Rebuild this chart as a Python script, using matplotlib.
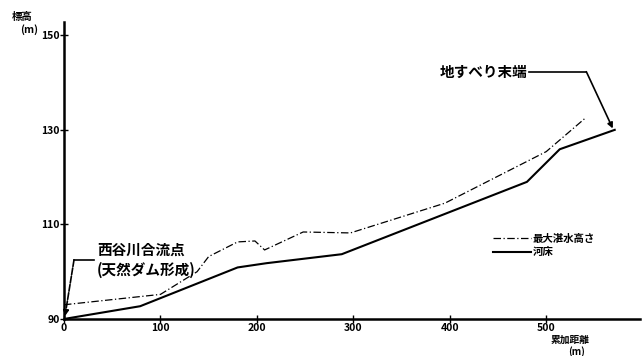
import matplotlib
matplotlib.use('Agg')
import matplotlib.pyplot as plt

plt.rcParams['font.family'] = ['Noto Sans CJK JP', 'DejaVu Sans']

# cumulative distance (m) vs elevation (m)
dist_water = [0, 100, 138, 150, 180, 198, 208, 248, 297, 395, 500, 540]
elev_water = [93.0, 95.2, 100.0, 103.2, 106.3, 106.5, 104.6, 108.4, 108.2, 114.5, 125.4, 132.4]

dist_bed = [0, 79, 180, 210, 288, 480, 514, 571]
elev_bed = [90.0, 92.7, 100.9, 101.8, 103.7, 119.0, 125.9, 130.0]

xticks = [0, 100, 200, 300, 400, 500]
yticks = [90, 110, 130, 150]

fig = plt.figure(figsize=(6.43, 3.56), dpi=100)
ax = fig.add_axes([0.0995, 0.104, 0.8955, 0.834])

ax.plot(dist_water, elev_water, color='black', lw=0.9,
        linestyle=(0, (6, 2, 1, 2)), label='最大湛水高さ')
ax.plot(dist_bed, elev_bed, color='black', lw=1.5, label='河床')

ax.set_xlim(0, 597)
ax.set_ylim(90, 152.8)
ax.set_xticks(xticks)
ax.set_yticks(yticks)
for s in ['top', 'right']:
    ax.spines[s].set_visible(False)
for s in ['left', 'bottom']:
    ax.spines[s].set_linewidth(1.8)
ax.tick_params(direction='inout', length=6, width=1, labelsize=7.5, pad=0)
for lab in ax.get_xticklabels() + ax.get_yticklabels():
    lab.set_fontweight('bold')

# axis titles
fig.text(12/643, 1-12/356, '標高', fontsize=7.5, fontweight='bold', va='top')
fig.text(20/643, 1-24/356, '(m)', fontsize=7.5, fontweight='bold', va='top')
fig.text(551/643, 1-335/356, '累加距離', fontsize=7, fontweight='bold', va='top')
fig.text(568/643, 1-346/356, '(m)', fontsize=7, fontweight='bold', va='top')

# annotations
ax.plot([10.4, 31], [102.5, 102.5], color='black', lw=1.2)
ax.annotate('', xy=(1, 90.6), xytext=(10.4, 102.5),
            arrowprops=dict(arrowstyle='-|>', color='black', lw=1.2,
                            linestyle=(0, (4, 1)), shrinkA=0, shrinkB=0,
                            mutation_scale=8))
ax.text(34, 102.5, '西谷川合流点\n(天然ダム形成)', fontsize=10.5, fontweight='bold',
        va='center', ha='left', linespacing=1.25)

ax.plot([482, 541.6], [142.3, 142.3], color='black', lw=1.2)
ax.annotate('', xy=(569, 130.3), xytext=(541.6, 142.3),
            arrowprops=dict(arrowstyle='-|>', color='black', lw=1.2,
                            shrinkA=0, shrinkB=0, mutation_scale=8))
ax.text(481, 142.3, '地すべり末端', fontsize=10.5, fontweight='bold',
        va='center', ha='right')

leg = ax.legend(loc='upper left', bbox_to_anchor=(493/643, 1-234/356),
                bbox_transform=fig.transFigure, frameon=False, fontsize=7.5,
                handlelength=3.6, handletextpad=0.2, labelspacing=0.3,
                borderpad=0, borderaxespad=0)
for t in leg.get_texts():
    t.set_fontweight('bold')

fig.savefig('out.png', dpi=100)
